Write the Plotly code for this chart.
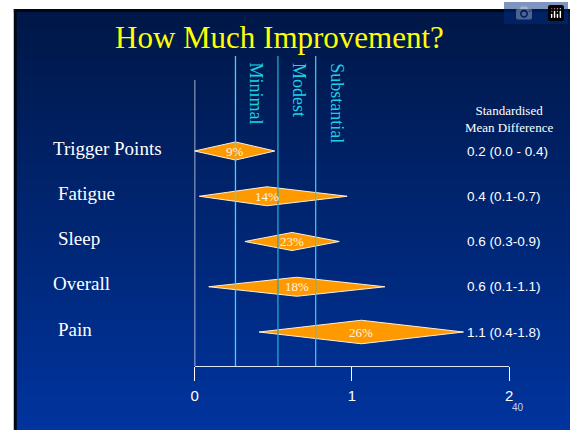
import plotly.graph_objects as go

# ---------------- data ----------------
categories = ["Trigger Points", "Fatigue", "Sleep", "Overall", "Pain"]
ci_lower = [0.00, 0.03, 0.32, 0.09, 0.41]
estimate = [0.26, 0.46, 0.62, 0.65, 1.06]
ci_upper = [0.51, 0.97, 0.92, 1.21, 1.71]
pct_labels = ["9%", "14%", "23%", "18%", "26%"]
smd_labels = ["0.2 (0.0 - 0.4)", "0.4 (0.1-0.7)", "0.6 (0.3-0.9)",
              "0.6 (0.1-1.1)", "1.1 (0.4-1.8)"]
ref_names = ["Minimal", "Modest", "Substantial"]
ref_values = [0.26, 0.53, 0.77]
x_ticks = [0, 1, 2]

# ---------------- style ----------------
OX, OY = 0, 0  # body margin removed by the post script
W, H = 570, 430
SERIF = "Liberation Serif, Times New Roman, serif"
SANS = "Liberation Sans, Arial, sans-serif"
half_h = [0.20, 0.21, 0.20, 0.21, 0.26]
label_indent = [0, 5, 5, 0, 5]
ref_colors = ["#3ad8ff", "#20a8cc", "#33c8f0"]


def px(xs):
    return (xs - OX) / W


def py(ys):
    return 1 - (ys - OY) / H


# plot area in screenshot pixels
x0_px, x2_px = 193.3, 512.3
y_top_px, y_bot_px = 56, 366
idx0_px, step_px = 151, 45.25
y_lo = (y_bot_px - idx0_px) / step_px
y_hi = (y_top_px - idx0_px) / step_px

fig = go.Figure()

# background gradient bands (slide)
n = 90
top_c = (0, 23, 70)
bot_c = (0, 52, 158)
sy0, sy1 = 9, 432
band = (sy1 - sy0) / n
for k in range(n):
    t = k / (n - 1)
    c = tuple(int(round(top_c[j] + (bot_c[j] - top_c[j]) * t)) for j in range(3))
    ya = sy0 + band * k
    yb = ya + band + 2.0
    fig.add_shape(type="rect", xref="paper", yref="paper",
                  x0=px(10), x1=1.02, y0=max(py(yb), -0.02), y1=py(ya),
                  line_width=0, fillcolor=f"rgb{c}", layer="below")
# white page edge above/left of slide
fig.add_shape(type="rect", xref="paper", yref="paper", x0=-0.02, x1=1.02,
              y0=py(9), y1=1.02, line_width=0, fillcolor="white", layer="below")
fig.add_shape(type="rect", xref="paper", yref="paper", x0=-0.02, x1=px(10),
              y0=-0.02, y1=1.02, line_width=0, fillcolor="white", layer="below")
# dark border top/left
fig.add_shape(type="rect", xref="paper", yref="paper", x0=px(10), x1=1.02,
              y0=py(12), y1=py(9), line_width=0, fillcolor="#000818", layer="below")
fig.add_shape(type="rect", xref="paper", yref="paper", x0=px(10), x1=px(13),
              y0=-0.02, y1=py(9), line_width=0, fillcolor="#000818", layer="below")

# reference lines
for v, c in zip(ref_values, ref_colors):
    fig.add_shape(type="line", xref="x", yref="y domain", x0=v, x1=v, y0=0, y1=1,
                  line=dict(color=c, width=1.3))
# zero line
fig.add_shape(type="line", xref="x", yref="y domain", x0=0, x1=0, y0=0,
              y1=(y_bot_px - 80) / (y_bot_px - y_top_px),
              line=dict(color="white", width=1.3))

# diamonds
for i, (lo, est, hi) in enumerate(zip(ci_lower, estimate, ci_upper)):
    h = half_h[i]
    fig.add_trace(go.Scatter(
        x=[lo, est, hi, est, lo], y=[i, i - h, i, i + h, i],
        mode="lines", fill="toself", fillcolor="#ff9900",
        line=dict(color="#fff0d8", width=1), cliponaxis=False,
        hoverinfo="skip", showlegend=False))
    fig.add_annotation(x=est, y=i, text=pct_labels[i], showarrow=False,
                       xanchor="center", yanchor="middle",
                       font=dict(family=SERIF, size=13, color="#fff6e6"))
    fig.add_annotation(xref="paper", x=px(48 + label_indent[i]), xanchor="left",
                       y=i, yanchor="middle", yshift=3, text=categories[i],
                       showarrow=False,
                       font=dict(family=SERIF, size=19, color="white"))
    fig.add_annotation(xref="paper", x=px(468), xanchor="left", y=i,
                       yanchor="middle", text=smd_labels[i], showarrow=False,
                       font=dict(family=SANS, size=13.5, color="white"))

# reference labels (rotated)
for v, name, c in zip(ref_values, ref_names, ref_colors):
    fig.add_annotation(x=v, xshift=21, yref="y domain",
                       y=(y_bot_px - 61) / (y_bot_px - y_top_px),
                       yanchor="top", xanchor="center", textangle=90,
                       text=name, showarrow=False,
                       font=dict(family=SERIF, size=18, color="#19d2e6"))

# header
fig.add_annotation(xref="paper", yref="paper", x=px(512), y=py(119),
                   xanchor="center", yanchor="middle",
                   text="Standardised<br>Mean Difference", showarrow=False,
                   font=dict(family=SERIF, size=13, color="white"))
# title
fig.add_annotation(xref="paper", yref="paper", x=px(279), y=py(37),
                   xanchor="center", yanchor="middle",
                   text="How Much Improvement?", showarrow=False,
                   font=dict(family=SERIF, size=31, color="#ffff00"))
# slide number
fig.add_annotation(xref="paper", yref="paper", x=px(521), y=py(407),
                   xanchor="center", yanchor="middle",
                   text="40", showarrow=False,
                   font=dict(family=SANS, size=10, color="#c8d0e8"))

fig.update_layout(
    width=W, height=H, margin=dict(l=0, r=0, t=0, b=0),
    paper_bgcolor="rgb(0,44,130)", plot_bgcolor="rgba(0,0,0,0)",
    xaxis=dict(domain=[px(x0_px), px(x2_px)], range=[0, 2], tickvals=x_ticks,
               showgrid=False, zeroline=False, showline=True, linecolor="#e0e6f0",
               linewidth=1.3, ticks="outside", ticklen=14, tickcolor="white",
               tickwidth=1.3, ticklabelstandoff=2,
               tickfont=dict(family=SANS, size=15, color="white"),
               fixedrange=True),
    yaxis=dict(domain=[py(y_bot_px), py(y_top_px)], range=[y_lo, y_hi],
               visible=False, fixedrange=True),
    showlegend=False,
)

fig.write_html(
    "out.html",
    post_script=("document.documentElement.style.overflow='hidden';"
                 "document.body.style.overflow='hidden';"
                 "document.body.style.margin='0px';"))
